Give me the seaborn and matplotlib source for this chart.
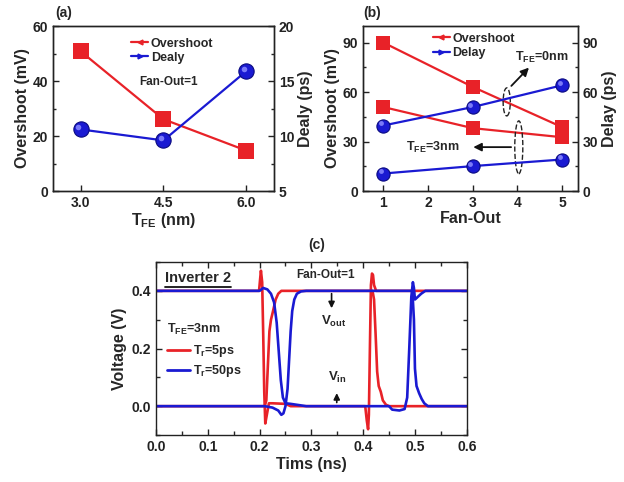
import numpy as np
import pandas as pd
import matplotlib
matplotlib.use("Agg")
import matplotlib.pyplot as plt
import matplotlib.transforms as mtransforms
import seaborn as sns
from matplotlib.lines import Line2D
from matplotlib.patches import Ellipse
from matplotlib.ticker import MultipleLocator, FormatStrFormatter

# ---------------- data ----------------
# panel (a)
tfe_a = [3.0, 4.5, 6.0]
overshoot_a = [50.8, 26.1, 14.7]
delay_a = [10.6, 9.6, 15.9]

# panel (b)
fanout_b = [1, 3, 5]
overshoot_b_0nm = [90.0, 63.1, 38.7]
overshoot_b_3nm = [50.9, 38.1, 32.6]
delay_b_0nm = [39.7, 50.9, 64.1]
delay_b_3nm = [10.6, 15.1, 19.1]

# panel (c) waveforms (time in ns, voltage in V)
t_red_out = [0.0, 0.199, 0.201, 0.2026, 0.205, 0.207, 0.209, 0.211, 0.214, 0.218, 0.225, 0.25, 0.26,
             0.404, 0.407, 0.4095, 0.411, 0.413, 0.415, 0.417, 0.419, 0.421, 0.425, 0.43, 0.6]
v_red_out = [0.4, 0.4, 0.44, 0.47, 0.43, 0.25, 0.05, -0.06, -0.03, 0.01, 0.01, 0.008, 0.0,
             0.0, -0.05, -0.08, -0.03, 0.2, 0.42, 0.46, 0.455, 0.42, 0.40, 0.40, 0.4]
t_red_in = [0.0, 0.21, 0.213, 0.216, 0.219, 0.222, 0.226, 0.231, 0.236, 0.242, 0.25,
            0.418, 0.421, 0.424, 0.427, 0.43, 0.434, 0.438, 0.444, 0.45, 0.6]
v_red_in = [0.0, 0.0, 0.02, 0.14, 0.26, 0.30, 0.33, 0.37, 0.39, 0.4, 0.4,
            0.4, 0.37, 0.25, 0.12, 0.07, 0.05, 0.02, 0.005, 0.0, 0.0]
t_blue_out = [0.0, 0.2, 0.207, 0.215, 0.222, 0.228, 0.233, 0.237, 0.241, 0.245, 0.25, 0.26, 0.275, 0.29,
              0.45, 0.456, 0.47, 0.48, 0.485, 0.489, 0.493, 0.496, 0.498, 0.5, 0.506, 0.512, 0.52, 0.6]
v_blue_out = [0.4, 0.4, 0.41, 0.405, 0.39, 0.36, 0.29, 0.19, 0.09, 0.03, 0.01, 0.008, 0.004, 0.0,
              0.0, -0.012, -0.015, -0.01, 0.03, 0.2, 0.38, 0.43, 0.41, 0.37, 0.38, 0.39, 0.4, 0.4]
t_blue_in = [0.0, 0.21, 0.225, 0.236, 0.242, 0.246, 0.25, 0.254, 0.257, 0.26, 0.263, 0.267, 0.272, 0.28, 0.29,
             0.49, 0.495, 0.498, 0.5, 0.503, 0.508, 0.513, 0.518, 0.525, 0.6]
v_blue_in = [0.0, 0.0, -0.005, -0.015, -0.03, -0.025, 0.0, 0.06, 0.16, 0.26, 0.33, 0.37, 0.39, 0.398, 0.4,
             0.4, 0.4, 0.3, 0.13, 0.07, 0.045, 0.025, 0.01, 0.0, 0.0]

# ---------------- style ----------------
sns.set_theme(style="ticks")
plt.rcParams['font.family'] = ['Liberation Sans', 'DejaVu Sans']
plt.rcParams['font.weight'] = 'bold'
plt.rcParams['axes.labelweight'] = 'bold'
plt.rcParams['mathtext.fontset'] = 'custom'
plt.rcParams['mathtext.rm'] = 'Liberation Sans:bold'
plt.rcParams['mathtext.bf'] = 'Liberation Sans:bold'
plt.rcParams['mathtext.it'] = 'Liberation Sans:bold'
plt.rcParams['xtick.direction'] = 'in'
plt.rcParams['ytick.direction'] = 'in'
plt.rcParams['axes.edgecolor'] = '#222222'
plt.rcParams['axes.linewidth'] = 1.0

RED = '#e82228'
BLUE = '#1a1ad2'
TICK_FS = 10
LAB_FS = 11.5

fig = plt.figure(figsize=(6.24, 4.82), dpi=100)
hl_offset = mtransforms.ScaledTranslation(-1.8 / 72, 1.8 / 72, fig.dpi_scale_trans)


def style_ticks(ax):
    ax.tick_params(axis='both', which='major', length=4, width=1, labelsize=TICK_FS, colors='#222222')
    ax.tick_params(axis='both', which='minor', length=2.5, width=1)
    for lab in ax.get_xticklabels() + ax.get_yticklabels():
        lab.set_fontweight('bold')


def sphere_highlight(ax, xs, ys, size):
    ax.plot(xs, ys, ls='none', marker='o', markersize=size, color='#8c8cff', alpha=0.85,
            markeredgewidth=0, transform=ax.transData + hl_offset)


# ---------------- panel (a) ----------------
ax_a = fig.add_axes([0.085, 0.6037, 0.354, 0.3423])
sns.lineplot(x=tfe_a, y=overshoot_a, ax=ax_a, color=RED, marker='s', markersize=12,
             markeredgewidth=0, linewidth=1.6)
ax_a.set_xlim(2.5, 6.5)
ax_a.set_ylim(0, 60)
ax_a.set_xticks(tfe_a)
ax_a.xaxis.set_major_formatter(FormatStrFormatter('%.1f'))
ax_a.yaxis.set_major_locator(MultipleLocator(20))
ax_a.yaxis.set_minor_locator(MultipleLocator(10))
ax_a.set_ylabel("Overshoot (mV)", fontsize=LAB_FS, labelpad=2)
ax_a.set_xlabel(r"T$_{\mathbf{FE}}$ (nm)", fontsize=LAB_FS, labelpad=1)
style_ticks(ax_a)

ax_a2 = ax_a.twinx()
sns.lineplot(x=tfe_a, y=delay_a, ax=ax_a2, color=BLUE, marker='o', markersize=11,
             markeredgecolor='#0a0a80', markeredgewidth=0.8, linewidth=1.6)
sphere_highlight(ax_a2, tfe_a, delay_a, 4)
ax_a2.set_ylim(5, 20)
ax_a2.yaxis.set_major_locator(MultipleLocator(5))
ax_a2.yaxis.set_minor_locator(MultipleLocator(2.5))
ax_a2.set_ylabel("Dealy (ps)", fontsize=LAB_FS, labelpad=3)
style_ticks(ax_a2)

h_a = [Line2D([], [], color=RED, marker='<', markersize=3.5, lw=1.6),
       Line2D([], [], color=BLUE, marker='>', markersize=3.5, lw=1.6)]
ax_a2.legend(h_a, ["Overshoot", "Dealy"], loc='upper left', bbox_to_anchor=(0.33, 0.96),
             frameon=False, fontsize=9, handlelength=1.4, handletextpad=0.2, labelspacing=0.15,
             borderaxespad=0)
ax_a2.text(0.39, 0.66, "Fan-Out=1", transform=ax_a2.transAxes, fontsize=8.5,
           fontweight='bold', ha='left', va='center')
fig.text(0.088, 0.972, "(a)", fontsize=10, fontweight='bold', ha='left', va='center')

# ---------------- panel (b) ----------------
ax_b = fig.add_axes([0.582, 0.6037, 0.344, 0.3423])
for ys in (overshoot_b_0nm, overshoot_b_3nm):
    sns.lineplot(x=fanout_b, y=ys, ax=ax_b, color=RED, marker='s', markersize=10,
                 markeredgewidth=0, linewidth=1.6)
ax_b.set_xlim(0.55, 5.35)
ax_b.set_ylim(0, 100)
ax_b.set_xticks([1, 2, 3, 4, 5])
ax_b.yaxis.set_major_locator(MultipleLocator(30))
ax_b.yaxis.set_minor_locator(MultipleLocator(15))
ax_b.set_ylabel("Overshoot (mV)", fontsize=LAB_FS, labelpad=2)
ax_b.set_xlabel("Fan-Out", fontsize=LAB_FS, labelpad=1)
style_ticks(ax_b)

ax_b2 = ax_b.twinx()
for ys in (delay_b_0nm, delay_b_3nm):
    sns.lineplot(x=fanout_b, y=ys, ax=ax_b2, color=BLUE, marker='o', markersize=9.5,
                 markeredgecolor='#0a0a80', markeredgewidth=0.8, linewidth=1.6)
    sphere_highlight(ax_b2, fanout_b, ys, 3.5)
ax_b2.set_ylim(0, 100)
ax_b2.yaxis.set_major_locator(MultipleLocator(30))
ax_b2.yaxis.set_minor_locator(MultipleLocator(15))
ax_b2.set_ylabel("Delay (ps)", fontsize=LAB_FS, labelpad=3)
style_ticks(ax_b2)

h_b = [Line2D([], [], color=RED, marker='<', markersize=3.5, lw=1.6),
       Line2D([], [], color=BLUE, marker='>', markersize=3.5, lw=1.6)]
ax_b2.legend(h_b, ["Overshoot", "Delay"], loc='upper left', bbox_to_anchor=(0.3, 0.99),
             frameon=False, fontsize=9, handlelength=1.4, handletextpad=0.2, labelspacing=0.2,
             borderaxespad=0)

ax_b2.add_patch(Ellipse((3.76, 54), 0.16, 17, fill=False, ls='--', lw=1.0, ec='#222222'))
ax_b2.add_patch(Ellipse((4.03, 26.5), 0.18, 32, fill=False, ls='--', lw=1.0, ec='#222222'))
ax_b2.annotate("", xy=(4.3, 76), xytext=(3.82, 62.5),
               arrowprops=dict(arrowstyle='-|>', color='#111111', lw=1.3, mutation_scale=12))
ax_b2.annotate("", xy=(2.95, 26.6), xytext=(3.92, 26.6),
               arrowprops=dict(arrowstyle='-|>', color='#111111', lw=1.3, mutation_scale=12))
ax_b2.text(4.55, 81, r"T$_{\mathbf{FE}}$=0nm", fontsize=9, ha='center', va='center', fontweight='bold')
ax_b2.text(2.1, 26.6, r"T$_{\mathbf{FE}}$=3nm", fontsize=9, ha='center', va='center', fontweight='bold')
fig.text(0.582, 0.972, "(b)", fontsize=10, fontweight='bold', ha='left', va='center')

# ---------------- panel (c) ----------------
ax_c = fig.add_axes([0.25, 0.0975, 0.498, 0.3589])
sns.lineplot(x=t_red_out, y=v_red_out, ax=ax_c, color=RED, linewidth=1.9, sort=False, estimator=None)
sns.lineplot(x=t_red_in, y=v_red_in, ax=ax_c, color=RED, linewidth=1.9, sort=False, estimator=None)
sns.lineplot(x=t_blue_out, y=v_blue_out, ax=ax_c, color=BLUE, linewidth=1.9, sort=False, estimator=None)
sns.lineplot(x=t_blue_in, y=v_blue_in, ax=ax_c, color=BLUE, linewidth=1.9, sort=False, estimator=None)
ax_c.set_xlim(0.0, 0.6)
ax_c.set_ylim(-0.1, 0.5)
ax_c.xaxis.set_major_locator(MultipleLocator(0.1))
ax_c.xaxis.set_minor_locator(MultipleLocator(0.05))
ax_c.yaxis.set_major_locator(MultipleLocator(0.2))
ax_c.yaxis.set_minor_locator(MultipleLocator(0.1))
ax_c.xaxis.set_major_formatter(FormatStrFormatter('%.1f'))
ax_c.yaxis.set_major_formatter(FormatStrFormatter('%.1f'))
ax_c.tick_params(top=True, right=True, which='both')
ax_c.set_xlabel("Tims (ns)", fontsize=LAB_FS, labelpad=2)
ax_c.set_ylabel("Voltage (V)", fontsize=LAB_FS, labelpad=3)
style_ticks(ax_c)
ax_c.tick_params(axis='both', which='minor', length=3)

h_c = [Line2D([], [], color=RED, lw=2), Line2D([], [], color=BLUE, lw=2)]
ax_c.legend(h_c, [r"T$_{\mathbf{r}}$=5ps", r"T$_{\mathbf{r}}$=50ps"], loc='upper left',
            bbox_to_anchor=(0.02, 0.56), frameon=False, fontsize=9, handlelength=1.8,
            handletextpad=0.3, labelspacing=0.3, borderaxespad=0)
ax_c.text(0.035, 0.61, r"T$_{\mathbf{FE}}$=3nm", transform=ax_c.transAxes, fontsize=9,
          ha='left', va='center', fontweight='bold')
inv = ax_c.text(0.03, 0.91, "Inverter 2", transform=ax_c.transAxes, fontsize=10.5,
                ha='left', va='center', fontweight='bold')
ax_c.text(0.545, 0.925, "Fan-Out=1", transform=ax_c.transAxes, fontsize=8.5,
          ha='center', va='center', fontweight='bold')
ax_c.annotate("", xy=(0.339, 0.33), xytext=(0.339, 0.4),
              arrowprops=dict(arrowstyle='-|>', color='#111111', lw=1.2, mutation_scale=9))
ax_c.text(0.343, 0.295, r"V$_{\mathbf{out}}$", fontsize=9.5, ha='center', va='center', fontweight='bold')
ax_c.annotate("", xy=(0.349, 0.055), xytext=(0.349, 0.003),
              arrowprops=dict(arrowstyle='-|>', color='#111111', lw=1.2, mutation_scale=9))
ax_c.text(0.351, 0.10, r"V$_{\mathbf{in}}$", fontsize=9.5, ha='center', va='center', fontweight='bold')
fig.text(0.508, 0.492, "(c)", fontsize=10, fontweight='bold', ha='center', va='center')

# underline "Inverter 2"
fig.canvas.draw()
bb = inv.get_window_extent(fig.canvas.get_renderer()).transformed(fig.transFigure.inverted())
fig.add_artist(Line2D([bb.x0, bb.x1], [bb.y0 - 0.004, bb.y0 - 0.004], color='#111111', lw=1.3,
                      transform=fig.transFigure))

fig.savefig("out.png", dpi=100)
